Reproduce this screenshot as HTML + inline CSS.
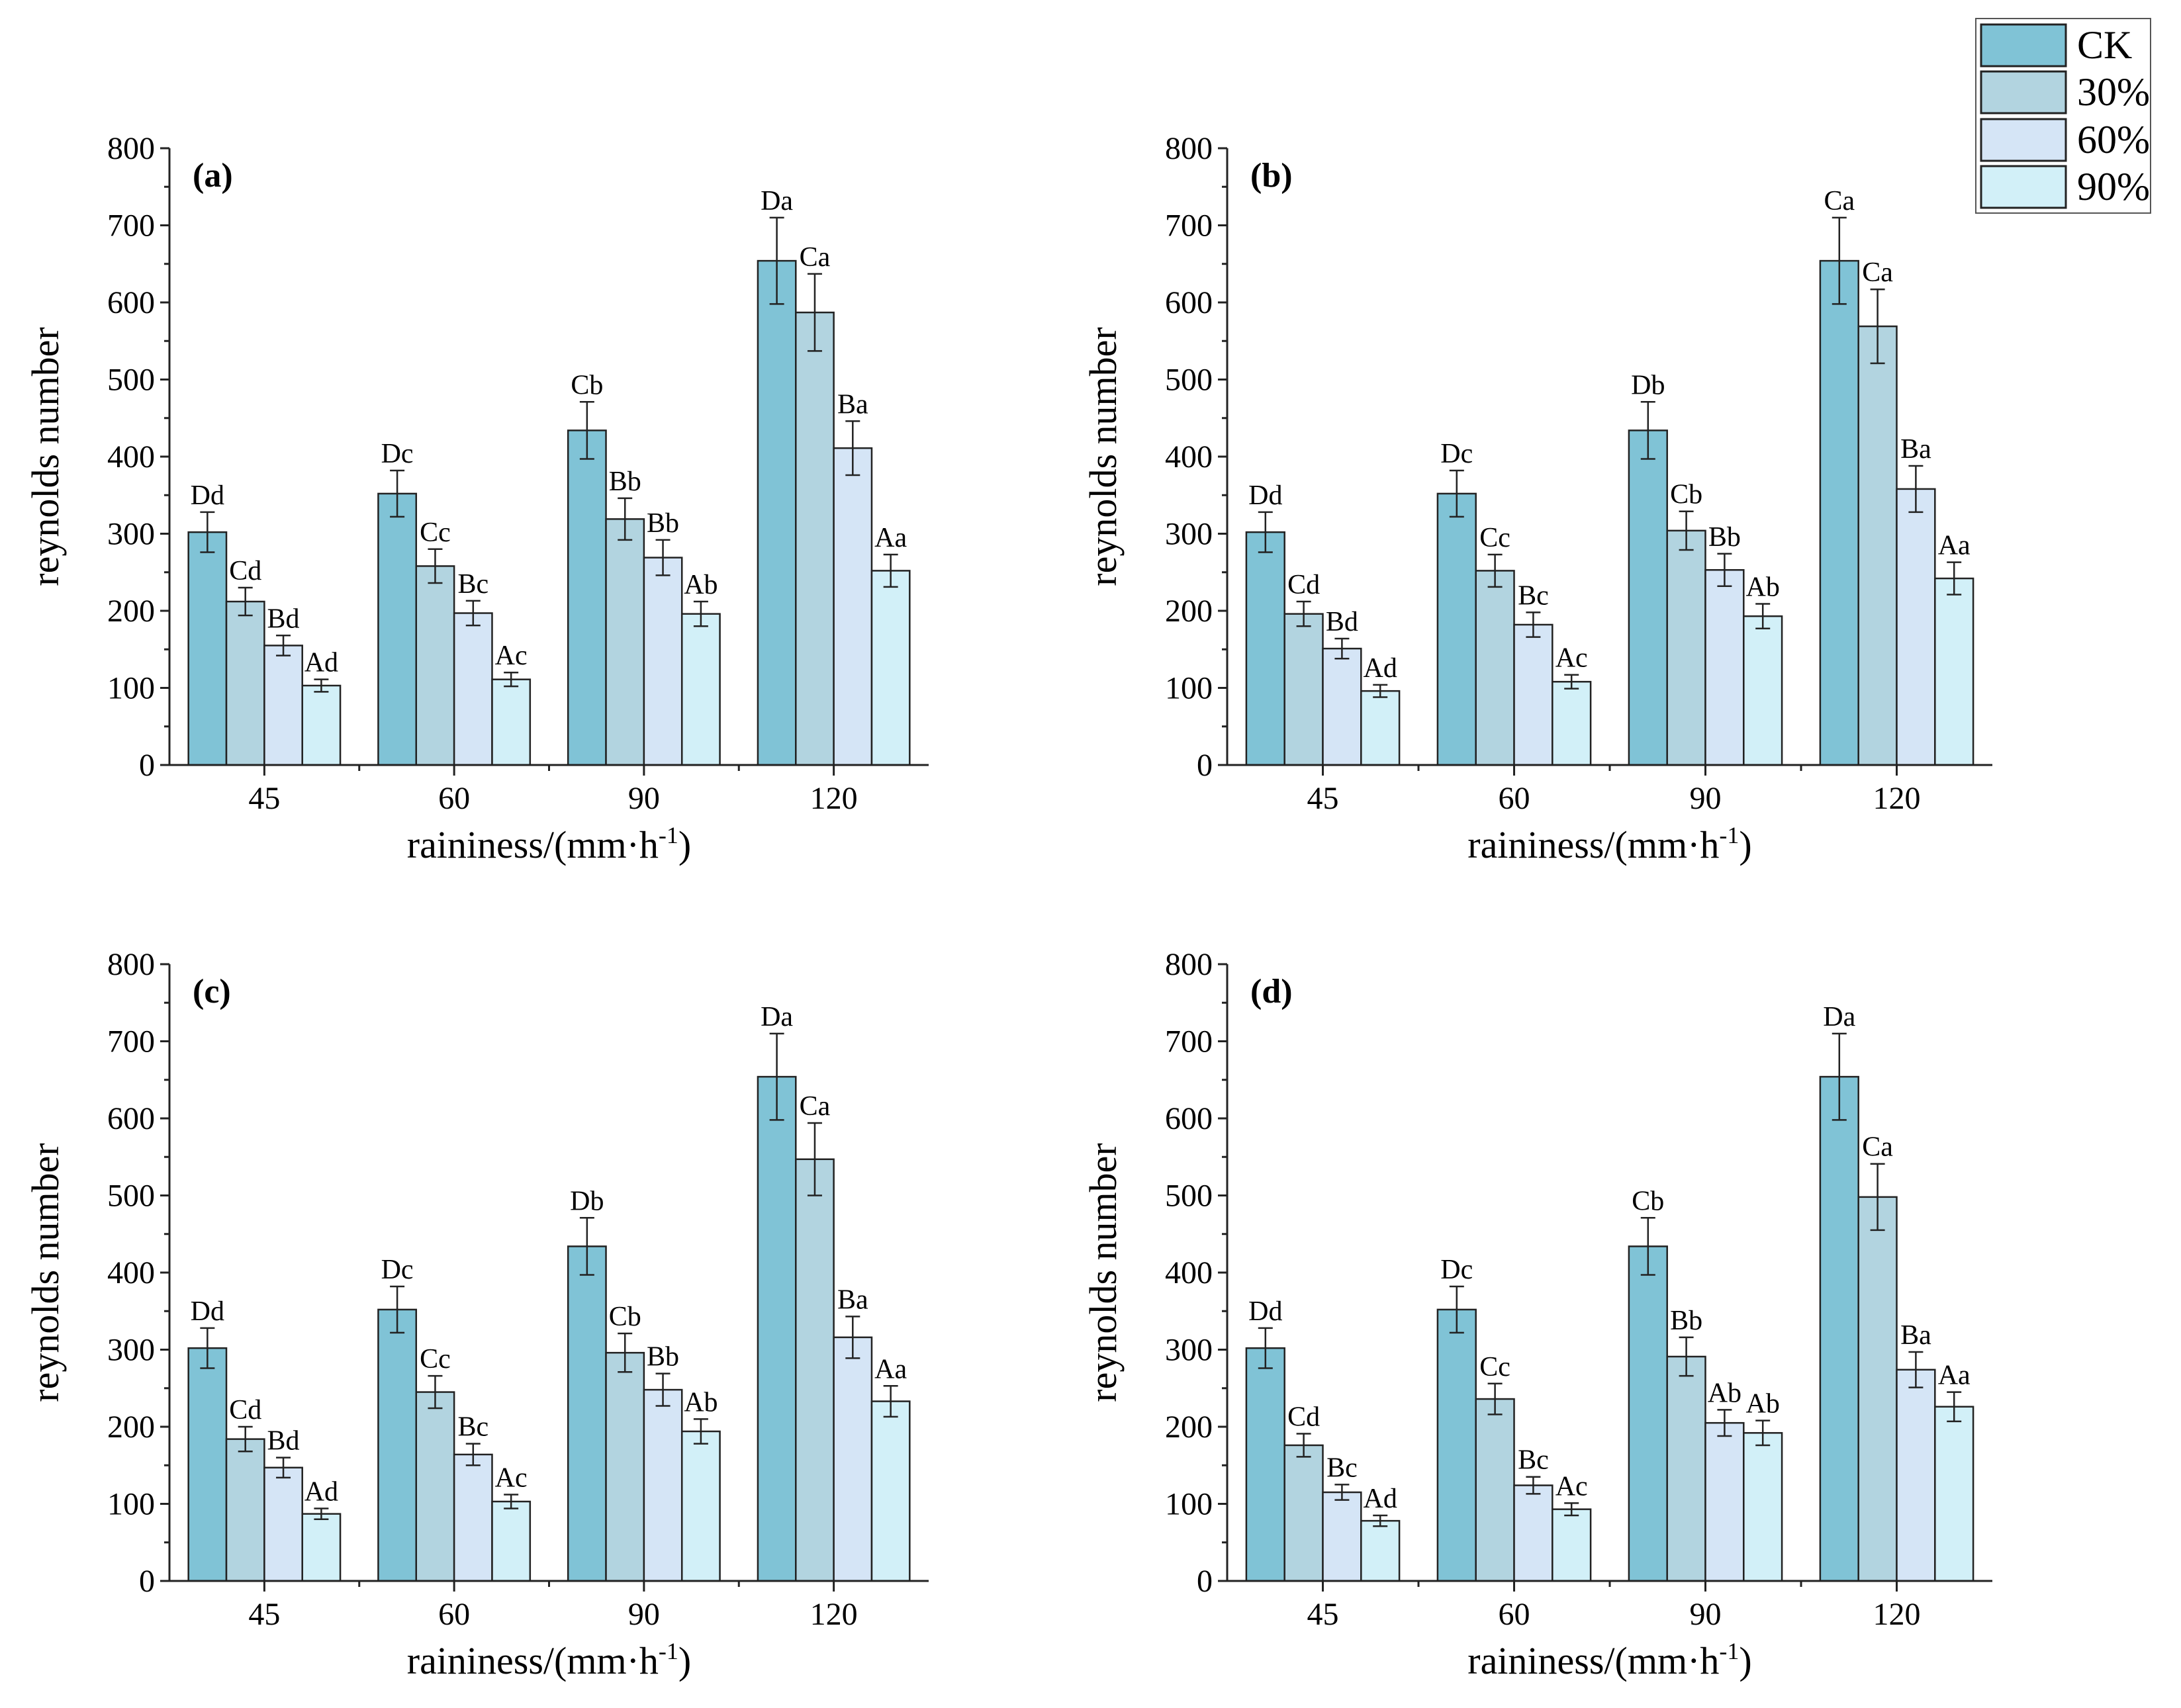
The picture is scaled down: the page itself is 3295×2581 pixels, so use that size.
<!DOCTYPE html>
<html><head><meta charset="utf-8"><style>
html,body{margin:0;padding:0;background:#fff}
svg{display:block;font-family:"Liberation Serif",serif}
</style></head><body>
<svg id="chart" width="3295" height="2581" viewBox="0 0 3295 2581" xmlns="http://www.w3.org/2000/svg">
<g>
<rect x="2985" y="28" width="264" height="294" fill="#fff" stroke="#555" stroke-width="2"/>
<rect x="2993" y="37" width="128" height="63" fill="#80c3d6" stroke="#222" stroke-width="3"/>
<rect x="2993" y="108" width="128" height="63" fill="#b2d4e0" stroke="#222" stroke-width="3"/>
<rect x="2993" y="180" width="128" height="63" fill="#d5e5f6" stroke="#222" stroke-width="3"/>
<rect x="2993" y="251" width="128" height="63" fill="#d2f0f8" stroke="#222" stroke-width="3"/>
<text x="3138" y="88" font-size="60">CK</text>
<text x="3138" y="159" font-size="60">30%</text>
<text x="3138" y="231" font-size="60">60%</text>
<text x="3138" y="302" font-size="60">90%</text>
</g>
</svg>
<script>
const categories = ["45","60","90","120"];
const seriesNames = ["CK","30%","60%","90%"];
const yTicks = [0,100,200,300,400,500,600,700,800];
const valsA = [[302,352,434,654],[212,258,319,587],[155,197,269,411],[103,111,196,252]];
const valsB = [[302,352,434,654],[196,252,304,569],[151,182,253,358],[96,108,193,242]];
const valsC = [[302,352,434,654],[184,245,296,547],[147,164,248,316],[87,103,194,233]];
const valsD = [[302,352,434,654],[176,236,291,498],[115,124,205,274],[78,93,192,226]];
const errA = [[26,30,37,56],[18,22,27,50],[13,16,23,35],[8,9,16,21]];
const errB = [[26,30,37,56],[16,21,25,48],[13,16,21,30],[8,9,16,21]];
const errC = [[26,30,37,56],[16,21,25,47],[13,14,21,27],[7,9,16,20]];
const errD = [[26,30,37,56],[15,20,25,43],[10,11,17,23],[7,8,16,19]];
const labA = [["Dd","Dc","Cb","Da"],["Cd","Cc","Bb","Ca"],["Bd","Bc","Bb","Ba"],["Ad","Ac","Ab","Aa"]];
const labB = [["Dd","Dc","Db","Ca"],["Cd","Cc","Cb","Ca"],["Bd","Bc","Bb","Ba"],["Ad","Ac","Ab","Aa"]];
const labC = [["Dd","Dc","Db","Da"],["Cd","Cc","Cb","Ca"],["Bd","Bc","Bb","Ba"],["Ad","Ac","Ab","Aa"]];
const labD = [["Dd","Dc","Cb","Da"],["Cd","Cc","Bb","Ca"],["Bc","Bc","Ab","Ba"],["Ad","Ac","Ab","Aa"]];
const colors = ["#80c3d6","#b2d4e0","#d5e5f6","#d2f0f8"];
const NS = "http://www.w3.org/2000/svg";
const svg = document.getElementById("chart");
function mk(tag, attrs, parent){const e=document.createElementNS(NS,tag);for(const k in attrs)e.setAttribute(k,attrs[k]);parent.appendChild(e);return e;}
function panel(id, x0, x1, y0, y800, vals, errs, labs){
  const g = mk("g",{},svg);
  
  
  const yS = v => y0 - (v/800)*(y0-y800);
  const cw = (x1-x0)/categories.length, bw = cw*0.8/4;
  categories.forEach((c,ci)=>{
    const gx = x0 + ci*cw + cw*0.1;
    for(let s=0;s<4;s++){
      const v=vals[s][ci], e=errs[s][ci], bx=gx+s*bw, cx=bx+bw/2;
      const r=mk("rect",{x:bx,y:yS(v),width:bw,height:y0-yS(v),fill:colors[s],stroke:"#222","stroke-width":2.5},g);
      
      
      const eb=mk("path",{d:`M${cx},${yS(v+e)}V${yS(v-e)}M${cx-11},${yS(v+e)}H${cx+11}M${cx-11},${yS(v-e)}H${cx+11}`,stroke:"#222","stroke-width":2.5,fill:"none"},g);
      
      
      const t=mk("text",{x:cx,y:yS(v+e)-12,"font-size":42,"text-anchor":"middle"},g);
      t.textContent=labs[s][ci];
      
      
    }
    const lx = x0+ci*cw+cw/2;
    mk("line",{x1:lx,x2:lx,y1:y0,y2:y0+16,stroke:"#222","stroke-width":3},g);
    if(ci>0) mk("line",{x1:x0+ci*cw,x2:x0+ci*cw,y1:y0,y2:y0+9,stroke:"#222","stroke-width":3},g);
    const tl=mk("text",{x:lx,y:y0+66,"font-size":48,"text-anchor":"middle"},g);
    tl.textContent=c;
    
    
  });
  mk("line",{x1:x0,x2:x0,y1:y800,y2:y0+1.5,stroke:"#222","stroke-width":3},g);
  mk("line",{x1:x0-1.5,x2:x1,y1:y0,y2:y0,stroke:"#222","stroke-width":3},g);
  yTicks.forEach(v=>{
    mk("line",{x1:x0-14,x2:x0,y1:yS(v),y2:yS(v),stroke:"#222","stroke-width":3},g);
    if(v<800) mk("line",{x1:x0-8,x2:x0,y1:yS(v+50),y2:yS(v+50),stroke:"#222","stroke-width":3},g);
    const t=mk("text",{x:x0-22,y:yS(v)+16,"font-size":48,"text-anchor":"end"},g);
    t.textContent=v;
    
    
  });
  const pl=mk("text",{x:x0+35,y:y800+58,"font-size":52,"font-weight":"bold"},g);
  pl.textContent="("+id+")";
  
  
  const yt=mk("text",{x:0,y:0,"font-size":58,"text-anchor":"middle",transform:`translate(${x0-168},${(y0+y800)/2}) rotate(-90)`},g);
  yt.textContent="reynolds number";
  
  
  const xt=mk("text",{x:(x0+x1)/2,y:y0+140,"font-size":58,"text-anchor":"middle"},g);
  xt.innerHTML='raininess/(mm·h<tspan dy="-22" font-size="36">-1</tspan><tspan dy="22">)</tspan>';
  
  
}
panel("a",256,1403,1156,224,valsA,errA,labA);
panel("b",1854,3010,1156,224,valsB,errB,labB);
panel("c",256,1403,2389,1457,valsC,errC,labC);
panel("d",1854,3010,2389,1457,valsD,errD,labD);
</script>
</body></html>
